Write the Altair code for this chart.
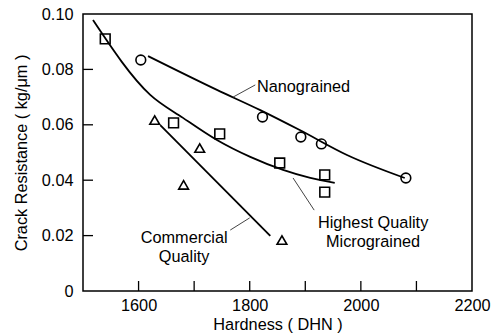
import altair as alt
import pandas as pd

# Measured points: hardness (DHN) vs crack resistance (kg/um)
micro_x = [1540, 1663, 1746, 1854, 1935, 1935]
micro_y = [0.0910, 0.0607, 0.0567, 0.0462, 0.0419, 0.0357]
nano_x = [1604, 1823, 1892, 1929, 2081]
nano_y = [0.0834, 0.0628, 0.0556, 0.0531, 0.0408]
comm_x = [1629, 1681, 1710, 1858]
comm_y = [0.0617, 0.0383, 0.0516, 0.0184]

# Trend curves drawn through each group
micro_fit_x = [1518, 1621, 1680, 1741, 1801, 1860, 1909, 1953]
micro_fit_y = [0.0978, 0.0708, 0.0625, 0.0545, 0.0484, 0.0437, 0.0408, 0.0390]
nano_fit_x = [1617, 1741, 1819, 1890, 1975, 2079]
nano_fit_y = [0.0848, 0.0726, 0.0653, 0.0581, 0.0491, 0.0408]
comm_fit_x = [1639, 1837]
comm_fit_y = [0.0599, 0.0199]

x_ticks = [1600, 1700, 1800, 1900, 2000, 2100]
y_ticks = [0.02, 0.04, 0.06, 0.08]
x_labels = [1600, 1800, 2000, 2200]
y_labels = [0, 0.02, 0.04, 0.06, 0.08, 0.10]

# Series labels and their leader lines
label_text = [["Nanograined"], ["Highest Quality", "Micrograined"], ["Commercial", "Quality"]]
label_x = [1813, 2022, 1682]
label_y = [0.0736, 0.0245, 0.0193]
label_align = ["left", "center", "center"]
leader_x = [1770, 1878, 1765]
leader_y = [0.0700, 0.0408, 0.0220]
leader_x2 = [1810, 1916, 1800]
leader_y2 = [0.0744, 0.0292, 0.0264]

FONT = "Liberation Sans"
FS = 16.3

xs = alt.Scale(domain=[1500, 2200], nice=False, zero=False)
ys = alt.Scale(domain=[0, 0.10], nice=False)

x_axis = alt.Axis(values=x_labels, format="d", ticks=False, tickSize=0, domain=False,
                  grid=False, labelPadding=6, title="Hardness  ( DHN )",
                  titlePadding=3, labelFlush=False)
y_axis = alt.Axis(values=y_labels, ticks=False, tickSize=0, domain=False, grid=False,
                  labelPadding=10, title="Crack Resistance  ( kg/μm )",
                  titlePadding=12, labelExpr="datum.value == 0 ? '0' : format(datum.value, '.2f')")

pts = pd.concat([
    pd.DataFrame({"h": micro_x, "r": micro_y, "g": "micro"}),
    pd.DataFrame({"h": nano_x, "r": nano_y, "g": "nano"}),
    pd.DataFrame({"h": comm_x, "r": comm_y, "g": "comm"}),
])

def curve(xv, yv, name):
    return pd.DataFrame({"h": xv, "r": yv, "g": name})

fits = pd.concat([
    curve(micro_fit_x, micro_fit_y, "micro"),
    curve(nano_fit_x, nano_fit_y, "nano"),
    curve(comm_fit_x, comm_fit_y, "comm"),
])

base_x = alt.X("h:Q", scale=xs, axis=x_axis)
base_y = alt.Y("r:Q", scale=ys, axis=y_axis)

lines = alt.Chart(fits).mark_line(color="black", strokeWidth=1.8, interpolate="monotone").encode(
    x=base_x, y=base_y, detail="g:N"
)

shape_scale = alt.Scale(domain=["micro", "nano", "comm"],
                        range=["square", "circle", "triangle-up"])
size_scale = alt.Scale(domain=["micro", "nano", "comm"], range=[95, 95, 70])
markers = alt.Chart(pts).mark_point(filled=False, color="black", strokeWidth=1.6, opacity=1).encode(
    x="h:Q", y="r:Q",
    shape=alt.Shape("g:N", scale=shape_scale, legend=None),
    size=alt.Size("g:N", scale=size_scale, legend=None),
)

xt = alt.Chart(pd.DataFrame({"h": x_ticks})).mark_rule(color="black", strokeWidth=1.3).encode(
    x="h:Q", y=alt.value(267), y2=alt.value(277)
)
yt = alt.Chart(pd.DataFrame({"r": y_ticks})).mark_rule(color="black", strokeWidth=1.3).encode(
    y="r:Q", x=alt.value(0), x2=alt.value(10)
)

lab_df = pd.DataFrame({"t": label_text, "h": label_x, "r": label_y, "a": label_align})
lab_left = alt.Chart(lab_df[lab_df.a == "left"]).mark_text(
    align="left", baseline="middle", font=FONT, fontSize=FS, color="black", lineHeight=19
).encode(x="h:Q", y="r:Q", text="t")
lab_center = alt.Chart(lab_df[lab_df.a == "center"]).mark_text(
    align="center", baseline="middle", font=FONT, fontSize=FS, color="black", lineHeight=19
).encode(x="h:Q", y="r:Q", text="t")

lead_df = pd.DataFrame({"h": leader_x, "r": leader_y, "h2": leader_x2, "r2": leader_y2})
leaders = alt.Chart(lead_df).mark_rule(color="#444", strokeWidth=1).encode(
    x="h:Q", y="r:Q", x2="h2:Q", y2="r2:Q"
)

chart = alt.layer(lines, markers, xt, yt, leaders, lab_left, lab_center).properties(
    width=389, height=277,
    background="white",
    autosize=alt.AutoSizeParams(type="none"),
    padding={"left": 83, "top": 14, "right": 19, "bottom": 44},
).configure_view(
    stroke="black", strokeWidth=1.5
).configure_axis(
    labelFont=FONT, labelFontSize=FS, labelColor="black",
    titleFont=FONT, titleFontSize=FS, titleColor="black", titleFontWeight="normal",
)

chart.save("out.html", embed_options={"renderer": "svg", "actions": False})
